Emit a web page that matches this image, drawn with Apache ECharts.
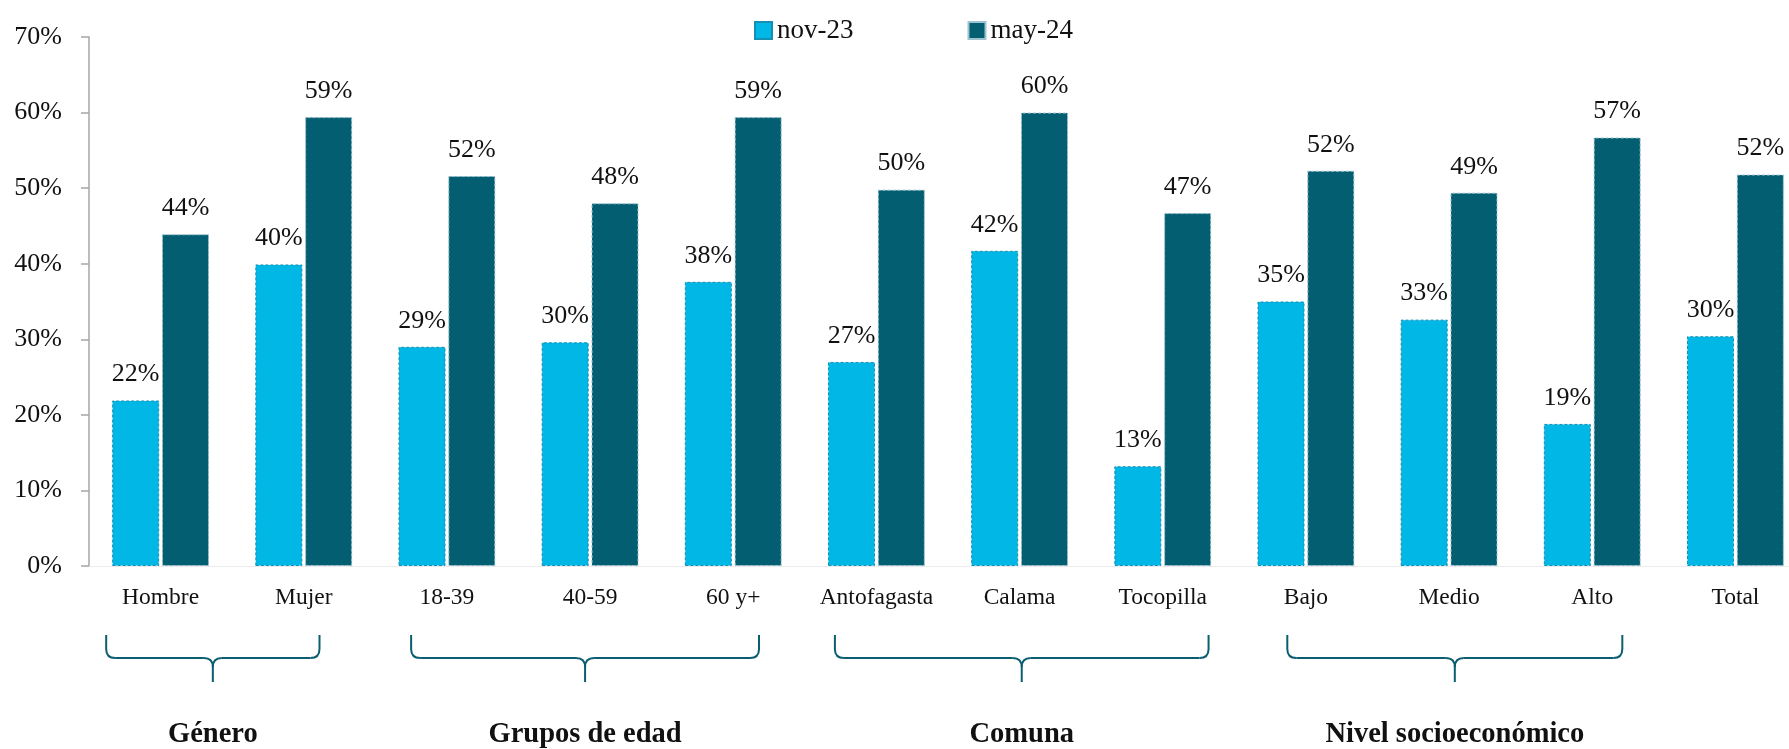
<!DOCTYPE html>
<html>
<head>
<meta charset="utf-8">
<script src="https://cdn.jsdelivr.net/npm/echarts@6/dist/echarts.min.js"></script>
<style>
html,body{margin:0;padding:0;background:#fff;}
#chart{width:1789px;height:749px;}
</style>
</head>
<body>
<div id="chart"></div>
<script>
const categories = ['Hombre','Mujer','18-39','40-59','60 y+','Antofagasta','Calama','Tocopilla','Bajo','Medio','Alto','Total'];
const seriesNames = ['nov-23','may-24'];
const nov23 = [21.9,39.9,29.0,29.6,37.6,27.0,41.7,13.2,35.0,32.6,18.8,30.4];
const may24 = [43.9,59.4,51.6,48.0,59.4,49.8,60.0,46.7,52.3,49.4,56.7,51.8];
const yMin = 0, yMax = 70, yStep = 10;
const groupNames = ['Género','Grupos de edad','Comuna','Nivel socioeconómico'];
// brace extents in category-index units
const groupSpans = [[-0.38,1.11],[1.75,4.18],[4.71,7.32],[7.87,10.21]];

(function () {
const FONT = '"Liberation Serif", "Times New Roman", serif';
const LIGHT = '#00b7e5';
const DARK = '#035e72';
const BRACE = '#0b5d70';

const chart = echarts.init(document.getElementById('chart'), null, {renderer:'canvas'});

const labelCfg = {
  show: true, position: 'top', distance: 13,
  fontFamily: FONT, fontSize: 26, color: '#111',
  formatter: p => Math.round(p.value) + '%'
};

chart.setOption({
  animation: false,
  backgroundColor: '#fff',
  legend: {
    left: 749, top: 12,
    itemWidth: 17, itemHeight: 17, itemGap: 114,
    icon: 'rect',
    textStyle: {fontFamily: FONT, fontSize: 27, color: '#111', padding: [0,0,0,0]},
    data: seriesNames
  },
  grid: {left: 89, top: 37, width: 1718, height: 529, containLabel: false, outerBoundsMode: 'none'},
  xAxis: {
    type: 'category', data: categories,
    axisLine: {show: true, lineStyle: {color: '#ececec', width: 1}},
    axisTick: {show: false},
    axisLabel: {fontFamily: FONT, fontSize: 23.5, color: '#111', margin: 20, interval: 0}
  },
  yAxis: {
    type: 'value', min: yMin, max: yMax, interval: yStep,
    axisLine: {show: true, lineStyle: {color: '#a6a6a6', width: 1.5}},
    axisTick: {show: true, inside: false, length: 8, lineStyle: {color: '#a6a6a6', width: 1.5}},
    splitLine: {show: false},
    axisLabel: {fontFamily: FONT, fontSize: 26, color: '#111', margin: 27, formatter: '{value}%'}
  },
  series: [
    {
      name: seriesNames[0], type: 'bar', data: nov23,
      barWidth: 47, barGap: '6%',
      itemStyle: {color: LIGHT, borderColor: '#1590b4', borderWidth: 1, borderType: [3,2]},
      label: labelCfg
    },
    {
      name: seriesNames[1], type: 'bar', data: may24,
      barWidth: 47,
      itemStyle: {color: DARK, borderColor: '#9cc3cf', borderWidth: 1, borderType: [3,2]},
      label: labelCfg
    }
  ]
});

function catX(idx) {
  const p0 = chart.convertToPixel({xAxisIndex: 0}, 0);
  const p1 = chart.convertToPixel({xAxisIndex: 0}, 1);
  return p0 + (p1 - p0) * idx;
}

const yTop = 635, yMid = 658, yBot = 682, r = 9;
const els = [];
const ls = {stroke: BRACE, lineWidth: 2, fill: null};
groupSpans.forEach((span, i) => {
  const x1 = catX(span[0]), x2 = catX(span[1]), xm = (x1 + x2) / 2;
  els.push({type: 'line', shape: {x1: x1, y1: yTop, x2: x1, y2: yMid - r}, style: ls, silent: true});
  els.push({type: 'bezierCurve', shape: {x1: x1, y1: yMid - r, cpx1: x1, cpy1: yMid, x2: x1 + r, y2: yMid}, style: ls, silent: true});
  els.push({type: 'line', shape: {x1: x1 + r, y1: yMid, x2: xm - r, y2: yMid}, style: ls, silent: true});
  els.push({type: 'bezierCurve', shape: {x1: xm - r, y1: yMid, cpx1: xm, cpy1: yMid, x2: xm, y2: yMid + r}, style: ls, silent: true});
  els.push({type: 'bezierCurve', shape: {x1: xm + r, y1: yMid, cpx1: xm, cpy1: yMid, x2: xm, y2: yMid + r}, style: ls, silent: true});
  els.push({type: 'line', shape: {x1: xm, y1: yMid + r, x2: xm, y2: yBot}, style: ls, silent: true});
  els.push({type: 'line', shape: {x1: xm + r, y1: yMid, x2: x2 - r, y2: yMid}, style: ls, silent: true});
  els.push({type: 'bezierCurve', shape: {x1: x2 - r, y1: yMid, cpx1: x2, cpy1: yMid, x2: x2, y2: yMid - r}, style: ls, silent: true});
  els.push({type: 'line', shape: {x1: x2, y1: yMid - r, x2: x2, y2: yTop}, style: ls, silent: true});
  els.push({type: 'text', x: xm, y: 735, silent: true,
    style: {text: groupNames[i], fill: '#111', font: 'bold 28.5px ' + FONT, textAlign: 'center', textVerticalAlign: 'middle'}});
});
chart.setOption({graphic: {elements: els}});
})();
</script>
</body>
</html>
